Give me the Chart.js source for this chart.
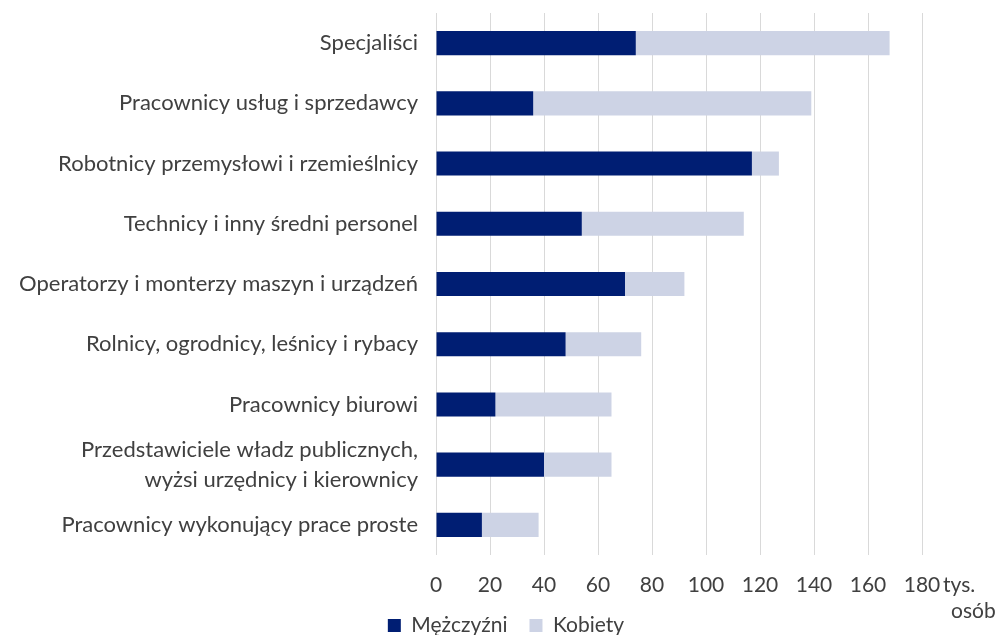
<!DOCTYPE html>
<html>
<head>
<meta charset="utf-8">
<script src="https://cdn.jsdelivr.net/npm/chart.js@4"></script>
<style>
  html, body { margin: 0; padding: 0; background: #fff; }
  #wrap { width: 1002px; height: 635px; }
</style>
</head>
<body>
<div id="wrap"><canvas id="myChart" width="1002" height="635"></canvas></div>
<script>
const categories = [
  'Specjaliści',
  'Pracownicy usług i sprzedawcy',
  'Robotnicy przemysłowi i rzemieślnicy',
  'Technicy i inny średni personel',
  'Operatorzy i monterzy maszyn i urządzeń',
  'Rolnicy, ogrodnicy, leśnicy i rybacy',
  'Pracownicy biurowi',
  ['Przedstawiciele władz publicznych,', 'wyżsi urzędnicy i kierownicy'],
  'Pracownicy wykonujący prace proste'
];
const mezczyzni = [74, 36, 117, 54, 70, 48, 22, 40, 17];
const kobiety = [94, 103, 10, 60, 22, 28, 43, 25, 21];
const xTicks = [0, 20, 40, 60, 80, 100, 120, 140, 160, 180];
const unitLabel = ['tys.', 'osób'];

const textColor = '#404040';
const fontFamily = 'Lato, "Open Sans", sans-serif';

// "tys. osób" next to the last tick
const unitPlugin = {
  id: 'unitLabel',
  afterLayout(chart) {
    // legend sits a bit right of centre in the original
    chart.legend.left += 45;
    chart.legend.right += 45;
  },
  afterDraw(chart) {
    const ctx = chart.ctx;
    const x = chart.scales.x;
    ctx.save();
    ctx.fillStyle = textColor;
    ctx.font = '21px ' + fontFamily;
    ctx.textAlign = 'left';
    ctx.textBaseline = 'middle';
    const px = x.getPixelForValue(180) + 21;
    const py = x.top + 30;
    ctx.fillText(unitLabel[0], px, py);
    ctx.fillText(unitLabel[1], px + 8, py + 26);
    ctx.restore();
  }
};

new Chart(document.getElementById('myChart'), {
  type: 'bar',
  data: {
    labels: categories,
    datasets: [
      {
        label: 'Mężczyźni',
        data: mezczyzni,
        backgroundColor: '#001E73',
        categoryPercentage: 0.4,
        barPercentage: 1
      },
      {
        label: 'Kobiety',
        data: kobiety,
        backgroundColor: '#CDD3E5',
        categoryPercentage: 0.4,
        barPercentage: 1
      }
    ]
  },
  plugins: [unitPlugin],
  options: {
    indexAxis: 'y',
    responsive: false,
    animation: false,
    layout: { padding: { left: 0, right: 80, top: 13, bottom: -11 } },
    plugins: {
      legend: {
        position: 'bottom',
        labels: {
          color: textColor,
          font: { size: 21, family: fontFamily },
          boxWidth: 13,
          boxHeight: 13,
          padding: 22
        }
      },
      tooltip: { enabled: false }
    },
    scales: {
      x: {
        stacked: true,
        min: 0,
        max: 180,
        afterBuildTicks: (scale) => { scale.ticks = xTicks.map(v => ({ value: v })); },
        afterFit: (scale) => { scale.height = 38; },
        grid: { color: '#D9D9D9', lineWidth: 1, drawTicks: false },
        border: { display: false },
        ticks: {
          color: textColor,
          font: { size: 21, family: fontFamily },
          padding: 18
        }
      },
      y: {
        stacked: true,
        afterFit: (scale) => {
          scale.width = 436;
          scale.paddingTop = 0;
          scale.paddingBottom = 0;
        },
        grid: { display: false, drawTicks: false },
        border: { display: false },
        ticks: {
          autoSkip: false,
          color: textColor,
          font: { size: 22, family: fontFamily, lineHeight: 1.36 },
          padding: 18
        }
      }
    }
  }
});
</script>
</body>
</html>
